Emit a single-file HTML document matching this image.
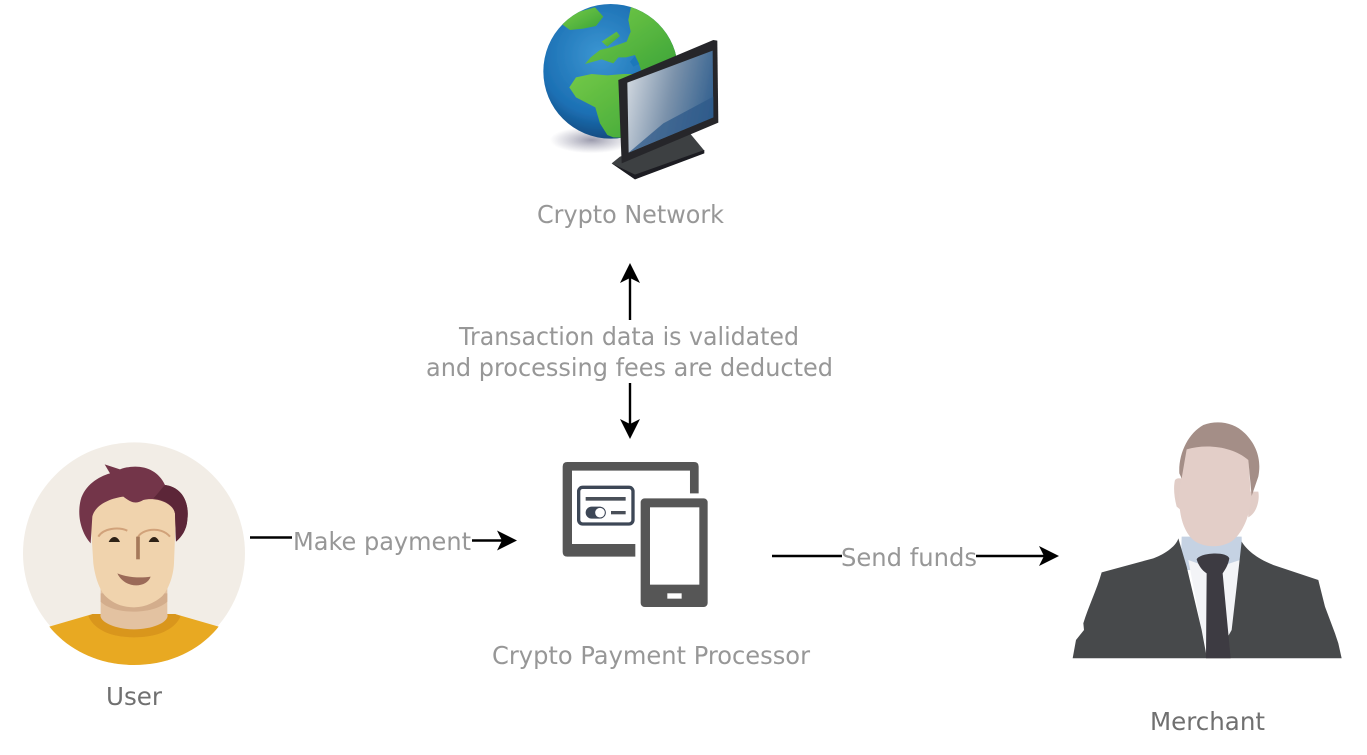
<!DOCTYPE html>
<html>
<head>
<meta charset="utf-8">
<style>
html,body{margin:0;padding:0;background:#fff;width:1367px;height:755px;overflow:hidden}
svg{display:block}
text{font-family:"DejaVu Sans","Liberation Sans",sans-serif;font-size:25px;fill:#979797;font-weight:400}
</style>
</head>
<body>
<svg width="1367" height="755" viewBox="0 0 1367 755" xmlns="http://www.w3.org/2000/svg">
<defs>
<radialGradient id="oc" cx="0.42" cy="0.38" r="0.68"><stop offset="0" stop-color="#3b96d2"/><stop offset="0.65" stop-color="#1c70b4"/><stop offset="1" stop-color="#0f3f70"/></radialGradient>
<linearGradient id="land" x1="0" y1="0" x2="1" y2="1"><stop offset="0" stop-color="#78cc48"/><stop offset="1" stop-color="#3aa338"/></linearGradient>
<linearGradient id="scr" x1="0" y1="0.3" x2="1" y2="0.55"><stop offset="0" stop-color="#cfd6de"/><stop offset="0.5" stop-color="#7b92ab"/><stop offset="1" stop-color="#32608f"/></linearGradient>
<radialGradient id="sh" cx="0.5" cy="0.5" r="0.5"><stop offset="0" stop-color="#7a7a92" stop-opacity=".75"/><stop offset="1" stop-color="#8a8aa0" stop-opacity="0"/></radialGradient>
<filter id="b" x="-5%" y="-5%" width="110%" height="110%"><feGaussianBlur stdDeviation="0.6"/></filter>
<filter id="t" x="-5%" y="-20%" width="110%" height="140%"><feGaussianBlur stdDeviation="0.3"/></filter>
<clipPath id="gc"><circle cx="272" cy="214" r="202"/></clipPath>
</defs>

<!-- Globe + monitor -->
<g transform="translate(520,0) scale(0.3333)" filter="url(#b)">
<ellipse cx="215" cy="420" rx="125" ry="40" fill="url(#sh)"/>
<circle cx="272" cy="214" r="202" fill="url(#oc)"/>
<g clip-path="url(#gc)">
<path d="M335 10L490 60V185L365 215L358 195L345 165L318 172L295 172L280 190L245 178L195 192L212 172L240 150L272 142L320 125L332 95L325 60Z" fill="url(#land)"/>
<path d="M148 262L168 232L215 222L262 226L310 222L345 222L470 180V420L280 412L262 405L240 370L226 322L168 292Z" fill="url(#land)"/>
<path d="M125 72L160 40L225 22L250 50L228 78L190 86L150 90Z" fill="url(#land)"/>
<path d="M245 125L290 95L300 108L262 140Z" fill="url(#land)"/>
<path d="M330 185L345 168L358 192L340 200Z" fill="#1f78bb"/>
</g>
<path d="M300 470L510 400L553 452L345 538L275 490Z" fill="#3d3f42"/>
<path d="M275 490L345 538L553 460V450L345 524Z" fill="#1d1e20"/>
<path d="M295 240L580 120L592 122L595 368L305 490Z" fill="#26282b"/>
<path d="M322 248L578 152L580 352L326 458Z" fill="url(#scr)"/>
<path d="M326 458L430 370L580 290V352Z" fill="#2d5a8a" opacity=".75"/>
</g>

<!-- User -->
<g transform="translate(10,430) scale(0.3333)" filter="url(#b)">
<circle cx="372" cy="370" r="333" fill="#f2ede6"/>
<path d="M118 590L248 552L495 552L626 590C570 660 480 705 372 705C265 705 175 660 118 590Z" fill="#e8a922"/>
<path d="M235 558L248 552H495L512 558C495 600 440 622 372 622C305 622 252 600 235 558Z" fill="#d9961f"/>
<path d="M272 470H472V552C480 575 430 598 372 598C315 598 265 575 272 552Z" fill="#e3c2a1"/>
<path d="M272 490H472V515C430 555 310 555 272 515Z" fill="#d3ad8c"/>
<path d="M240 240C240 200 300 190 372 200C440 195 498 200 498 245L492 400C490 440 475 480 455 500C425 525 395 532 372 532C345 532 315 525 288 500C268 480 255 440 250 400Z" fill="#f0d3ad"/>
<path d="M284 103L330 118C380 100 440 110 465 165C510 170 540 210 532 270C530 300 515 320 498 335L495 250C490 220 440 200 400 210C375 225 360 215 340 200C300 205 255 225 247 260L242 340C215 310 200 260 212 210C225 165 265 140 300 130Z" fill="#733648"/>
<path d="M430 205C445 190 455 175 465 165C510 170 540 210 532 270C530 300 515 320 498 335L495 250C490 225 465 210 430 205Z" fill="#5b2737"/>
<path d="M265 320C280 295 325 290 352 302" fill="none" stroke="#d1a27a" stroke-width="6"/>
<path d="M384 322C392 300 450 285 480 320" fill="none" stroke="#d1a27a" stroke-width="6"/>
<path d="M384 320V388" stroke="#a5795a" stroke-width="11" fill="none"/>
<path d="M296 336C305 316 322 316 330 336Z" fill="#2d2018"/>
<path d="M416 336C425 316 440 316 448 336Z" fill="#2d2018"/>
<path d="M322 430C350 442 390 445 422 440C410 475 345 478 322 430Z" fill="#9b6b58"/>
</g>

<!-- Device -->
<g transform="translate(550,450) scale(0.3333)" filter="url(#b)">
<path d="M52 36H432Q446 36 446 50V130H420V62H66V282H256V320H52Q38 320 38 306V50Q38 36 52 36Z" fill="#565656"/>
<rect x="272" y="145" width="201" height="326" rx="12" fill="#565656"/>
<rect x="300" y="172" width="148" height="232" fill="#fff"/>
<rect x="352" y="430" width="43" height="16" fill="#fff"/>
<rect x="86" y="112" width="163" height="110" rx="12" fill="#fff" stroke="#3d4656" stroke-width="10"/>
<rect x="107" y="141" width="120" height="11" fill="#4a4f58"/>
<rect x="107" y="170" width="60" height="36" rx="18" fill="#3d4656"/>
<circle cx="150" cy="188" r="16" fill="#fff" stroke="#3d4656" stroke-width="3"/>
<rect x="183" y="183" width="44" height="10" fill="#4a4f58"/>
</g>

<!-- Merchant -->
<g transform="translate(1060,410) scale(0.3333)" filter="url(#b)">
<path d="M345 210C355 200 370 205 375 220L375 310L350 290C342 260 340 230 345 210Z" fill="#e1cdc7"/>
<path d="M595 245C600 270 590 310 565 322L560 245Z" fill="#e1cdc7"/>
<path d="M365 380H545L548 480H362Z" fill="#c5d2e3"/>
<path d="M385 450L440 470H480L540 450L525 660L470 720H440L425 660Z" fill="#f3f4f7"/>
<path d="M355 385C350 405 320 430 280 445L125 487C110 540 85 590 70 640L72 660L48 690L38 745H845L835 700L825 670L795 590L775 510L640 465C590 445 560 420 545 395L530 530L515 660L470 740H440L425 660L380 470Z" fill="#47494c"/>
<path d="M372 115C430 100 520 105 565 135L572 250C575 300 555 360 520 390C490 415 430 415 400 390C370 365 355 310 358 250Z" fill="#e3cec8"/>
<path d="M358 190C355 130 385 70 430 45C470 30 520 35 555 70C590 105 605 150 595 200L575 258L565 150C520 110 440 100 380 118L365 205Z" fill="#a48e87"/>
<path d="M410 448C420 428 500 423 508 445C505 465 495 480 488 490L512 745H438L440 490C425 480 415 465 410 448Z" fill="#3e3b42"/>
</g>

<!-- Connectors -->
<g stroke="#000" stroke-width="2.4" fill="none">
<path d="M630 320V272"/>
<path d="M630 383V430"/>
<path d="M250 537.500H292"/>
<path d="M472 540.500H508"/>
<path d="M772 556H842"/>
<path d="M976 556H1050"/>
</g>
<g fill="#000">
<path d="M630 263L640 283L630 278L620 283Z"/>
<path d="M630 439L620 419L630 424L640 419Z"/>
<path d="M517 540.500L497 530.500L502 540.500L497 550.500Z"/>
<path d="M1059 556L1039 546L1044 556L1039 566Z"/>
</g>

<!-- Labels -->
<g filter="url(#t)">
<text x="537" y="223" textLength="187" lengthAdjust="spacingAndGlyphs">Crypto Network</text>
<text x="459" y="345" textLength="340" lengthAdjust="spacingAndGlyphs">Transaction data is validated</text>
<text x="426" y="376" textLength="407" lengthAdjust="spacingAndGlyphs">and processing fees are deducted</text>
<text x="293" y="550" textLength="178" lengthAdjust="spacingAndGlyphs">Make payment</text>
<text x="841" y="566" textLength="136" lengthAdjust="spacingAndGlyphs">Send funds</text>
<text x="492" y="664" textLength="318" lengthAdjust="spacingAndGlyphs">Crypto Payment Processor</text>
<text x="106" y="705" textLength="56" lengthAdjust="spacingAndGlyphs" style="fill:#707070">User</text>
<text x="1150" y="730" textLength="115" lengthAdjust="spacingAndGlyphs" style="fill:#707070">Merchant</text>
</g>
</svg>
</body>
</html>
